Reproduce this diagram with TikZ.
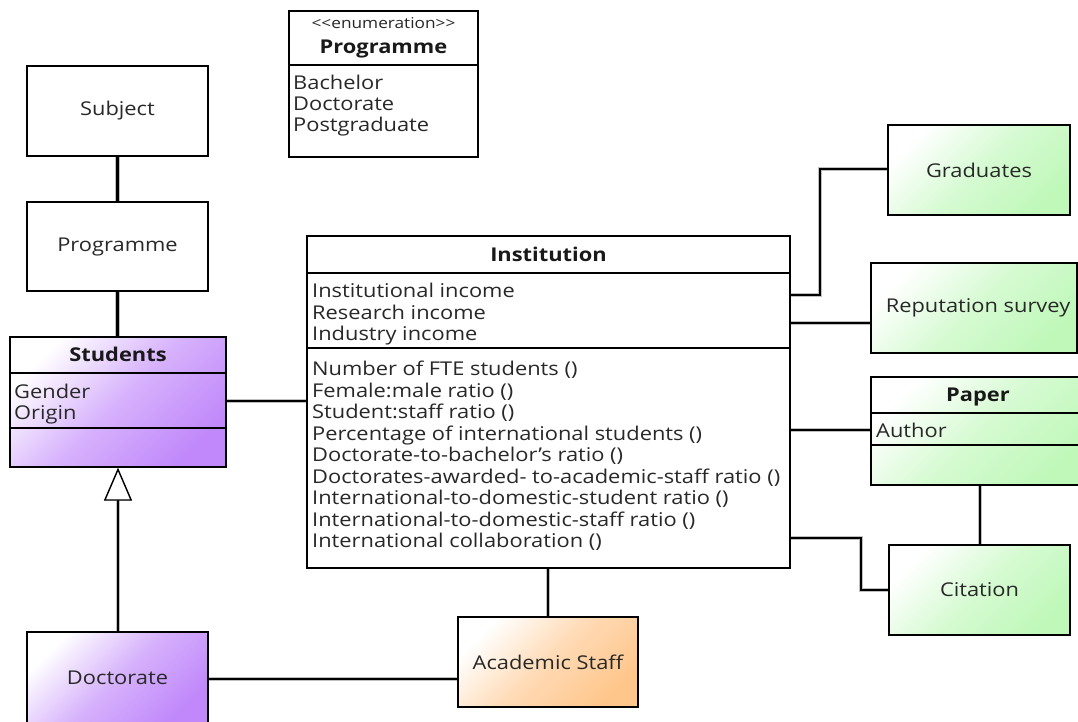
\documentclass[tikz,border=0pt]{standalone}
\usepackage{fontspec}
\setmainfont{Open Sans}[FakeStretch=1.15]
\usetikzlibrary{arrows.meta,calc}
\definecolor{stuPurple}{RGB}{192,136,250}
\definecolor{extGreen}{RGB}{192,248,186}
\definecolor{staffOrange}{RGB}{255,198,140}
\definecolor{txt}{RGB}{40,40,40}
\newcommand{\umlfont}{\fontsize{19}{21.5}\selectfont}
\tikzset{
  box/.style={draw=black, line width=1.4pt, rectangle, inner sep=0pt, text=txt,
              font=\umlfont},
  plain/.style={box, fill=white},
  purplebox/.style={box, top color=white, bottom color=stuPurple,
                    middle color=stuPurple!65!white, shading angle=45},
  greenbox/.style={box, top color=white, bottom color=extGreen,
                   middle color=extGreen!65!white, shading angle=45},
  orangebox/.style={box, top color=white, bottom color=staffOrange,
                    middle color=staffOrange!65!white, shading angle=45},
  sep/.style={draw=black, line width=1.2pt},
  conn/.style={draw=black, line width=2.6pt,
               preaction={draw=black!25, line width=4.6pt}},
  title/.style={inner sep=0pt, anchor=base, font=\umlfont\bfseries, text=black!90},
  item/.style={inner sep=0pt, anchor=base west, text=txt, font=\umlfont},
}
\begin{document}
\begin{tikzpicture}[x=1pt,y=-1pt]
\useasboundingbox (0,0) rectangle (1078,722);
\clip (0,0) rectangle (1078,722);
\fill[white] (0,0) rectangle (1078,722);

% ---- boxes ----
\node[plain, minimum width=189pt, minimum height=146pt] (enum) at (383.5,84) {};
\node[plain, minimum width=181pt, minimum height=90pt] (subject) at (117.5,111) {Subject};
\node[plain, minimum width=181pt, minimum height=89pt] (prog) at (117.5,246.5) {Programme};
\node[purplebox, minimum width=216pt, minimum height=130pt] (stu) at (118,402) {};
\node[purplebox, minimum width=181pt, minimum height=92pt] (doc) at (117.5,678) {Doctorate};
\node[orangebox, minimum width=180pt, minimum height=90pt] (staff) at (548,662) {Academic Staff};
\node[plain, minimum width=483pt, minimum height=332pt] (inst) at (548.5,402) {};
\node[greenbox, minimum width=182pt, minimum height=90pt] (grad) at (979,170) {Graduates};
\node[greenbox, minimum width=206pt, minimum height=90pt] (rep) at (974,308) {\hspace*{8pt}Reputation survey};
\node[greenbox, minimum width=214pt, minimum height=108pt] (paper) at (978,431) {};
\node[greenbox, minimum width=181pt, minimum height=90pt] (cit) at (979.5,590) {Citation};

% ---- enumeration Programme ----
\node[inner sep=0pt, anchor=base, font=\fontsize{15}{17}\selectfont, text=txt] (enumst)
  at (383.5,28.5) {<\kern0pt<enumeration>\kern0pt>};
\node[title] (enumt) at (383.5,53.3) {Programme};
\draw[sep] (enum.west |- 0,65) -- (enum.east |- 0,65);
\foreach \t [count=\i] in {{Bachelor},{Doctorate},{Postgraduate}}
  \node[item] (enumi\i) at (293,{90+(\i-1)*21}) {\t};

% ---- Students class ----
\node[title] (stut) at (118,361.7) {Students};
\draw[sep] (stu.west |- 0,373) -- (stu.east |- 0,373);
\draw[sep] (stu.west |- 0,428) -- (stu.east |- 0,428);
\node[item] (stua) at (14,398.3) {Gender};
\node[item] (stub) at (14,419.8) {Origin};

% ---- Institution class ----
\node[title] (instt) at (548.5,261.7) {Institution};
\draw[sep] (inst.west |- 0,273) -- (inst.east |- 0,273);
\draw[sep] (inst.west |- 0,348) -- (inst.east |- 0,348);
\foreach \t [count=\i] in {{Institutional income},{Research income},{Industry income}}
  \node[item] (insta\i) at (312,{297.5+(\i-1)*21.5}) {\t};
\foreach \t [count=\i] in {{Number of FTE students ()},{Female:male ratio ()},{Student:staff ratio ()},
    {Percentage of international students ()},{Doctorate-to-bachelor’s ratio ()},
    {Doctorates-awarded- to-academic-staff ratio ()},{International-to-domestic-student ratio ()},
    {International-to-domestic-staff ratio ()},{International collaboration ()}}
  \node[item] (instm\i) at (312,{375.5+(\i-1)*21.5}) {\t};

% ---- Paper class ----
\node[title] (papert) at (978,401.7) {Paper};
\draw[sep] (paper.west |- 0,413) -- (paper.east |- 0,413);
\draw[sep] (paper.west |- 0,445) -- (paper.east |- 0,445);
\node[item] (papera) at (876,437) {Author};

% ---- connectors ----
\draw[conn] (subject.south) -- (prog.north);
\draw[conn] (prog.south) -- (prog.south |- stu.north);
\draw[conn] (stu.east |- 0,401) -- (inst.west |- 0,401);
\draw[conn] (doc.east |- 0,679) -- (staff.west |- 0,679);
\draw[conn] (staff.north) -- (staff.north |- inst.south);
\draw[conn] (inst.east |- 0,295) -| (820,169) -- (grad.west |- 0,169);
\draw[conn] (inst.east |- 0,323) -- (rep.west |- 0,323);
\draw[conn] (inst.east |- 0,430) -- (paper.west |- 0,430);
\draw[conn] (inst.east |- 0,538) -| (861,590) -- (cit.west |- 0,590);
\draw[conn] (paper.south -| 980,0) -- (cit.north -| 980,0);
% generalisation: Doctorate -> Students
\draw[draw=black, line width=2.6pt, preaction={draw=black!25, line width=4.6pt},
      -{Triangle[open, length=33pt, width=28pt, line width=1.4pt, fill=white]}]
  (doc.north -| stu.south) -- (stu.south);
\end{tikzpicture}
\end{document}
